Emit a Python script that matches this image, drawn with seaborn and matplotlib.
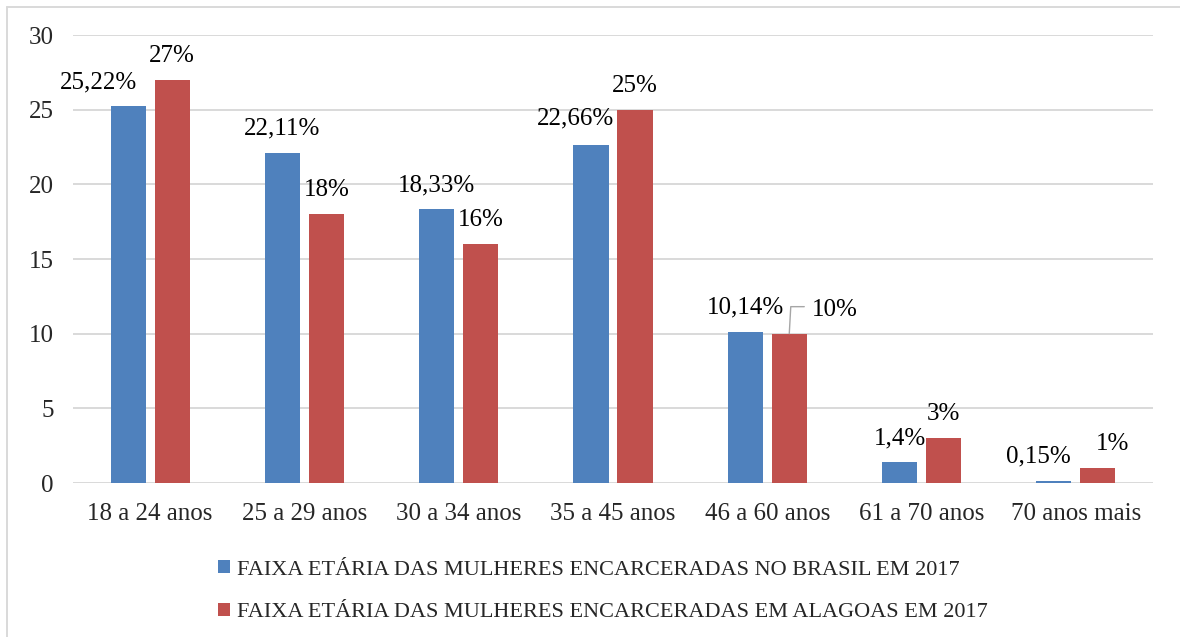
import matplotlib
matplotlib.use("Agg")
import matplotlib.pyplot as plt
from matplotlib.lines import Line2D
from matplotlib.transforms import IdentityTransform
import seaborn as sns
import pandas as pd

# Data
faixas = ["18 a 24 anos", "25 a 29 anos", "30 a 34 anos", "35 a 45 anos",
          "46 a 60 anos", "61 a 70 anos", "70 anos mais"]
brasil = [25.22, 22.11, 18.33, 22.66, 10.14, 1.4, 0.15]
alagoas = [27, 18, 16, 25, 10, 3, 1]
serie_brasil = "FAIXA ETÁRIA DAS MULHERES ENCARCERADAS NO BRASIL EM 2017"
serie_alagoas = "FAIXA ETÁRIA DAS MULHERES ENCARCERADAS EM ALAGOAS EM 2017"
yticks = [0, 5, 10, 15, 20, 25, 30]

df = pd.DataFrame({
    "faixa": faixas * 2,
    "valor": brasil + alagoas,
    "serie": [serie_brasil] * len(faixas) + [serie_alagoas] * len(faixas),
})

BLUE = "#4F81BD"
RED = "#C0504D"
GRID = "#D9D9D9"

sns.set_style("white")
plt.rcParams["font.family"] = ["Liberation Serif", "DejaVu Serif"]

W, H, DPI = 1180, 637, 100
fig = plt.figure(figsize=(W / DPI, H / DPI), dpi=DPI)
ax = fig.add_axes([73 / W, 1 - 483 / H, (1153 - 73) / W, (483 - 35) / H])

sns.barplot(data=df, x="faixa", y="valor", hue="serie",
            palette=[BLUE, RED], width=0.57, gap=0.2,
            saturation=1, linewidth=0, ax=ax, legend=True)

ax.set_xlim(-0.5, len(faixas) - 0.5)
ax.set_ylim(0, 30)
ax.set_yticks(yticks)
ax.set_yticklabels([str(t) for t in yticks])
ax.set_xlabel("")
ax.set_ylabel("")
ax.yaxis.grid(True, color=GRID, linewidth=1.4)
ax.set_axisbelow(True)
for s in ax.spines.values():
    s.set_visible(False)
ax.tick_params(axis="y", length=0, pad=14, labelsize=18)
ax.tick_params(axis="x", length=0, pad=14.5, labelsize=18)

# Value labels: pixel offsets of each label from the bar top
shift = {
    (0, 0): (-30, 0),
    (0, 3): (-16, 2),
    (1, 4): (46, 0),
    (0, 6): (-15, 0),
    (1, 6): (15, 0),
}
fig.canvas.draw()
for si, (cont, vals) in enumerate(zip(ax.containers, [brasil, alagoas])):
    for ci, (patch, v) in enumerate(zip(cont.patches, vals)):
        xc = patch.get_x() + patch.get_width() / 2
        dx, dy = shift.get((si, ci), (0, 0))
        txt = f"{v:g}".replace(".", ",") + "%"
        ax.annotate(txt, xy=(xc, v), xytext=(dx, 24 + dy),
                    textcoords="offset pixels", ha="center", va="center",
                    fontsize=18, color="black")
        if (si, ci) == (1, 4):
            px, py = ax.transData.transform((xc, v))
            fig.add_artist(Line2D([px, px + 1.5, px + 15], [py, py + 27, py + 27],
                                  transform=IdentityTransform(),
                                  color="#A6A6A6", linewidth=1.0))

# Legend below the plot, stacked
sns.move_legend(ax, "upper center", bbox_to_anchor=(0.511, 1 - 540 / H),
                bbox_transform=fig.transFigure, ncol=1, frameon=False,
                title=None, fontsize=16, handlelength=0.55, handleheight=0.55,
                handletextpad=0.3, labelspacing=1.05)

# Chart frame
fig.add_artist(Line2D([7, W], [H - 7, H - 7], transform=IdentityTransform(),
                      color=GRID, linewidth=1.4))
fig.add_artist(Line2D([7, 7], [0, H - 7], transform=IdentityTransform(),
                      color=GRID, linewidth=1.4))

fig.savefig("out.png", dpi=DPI)
